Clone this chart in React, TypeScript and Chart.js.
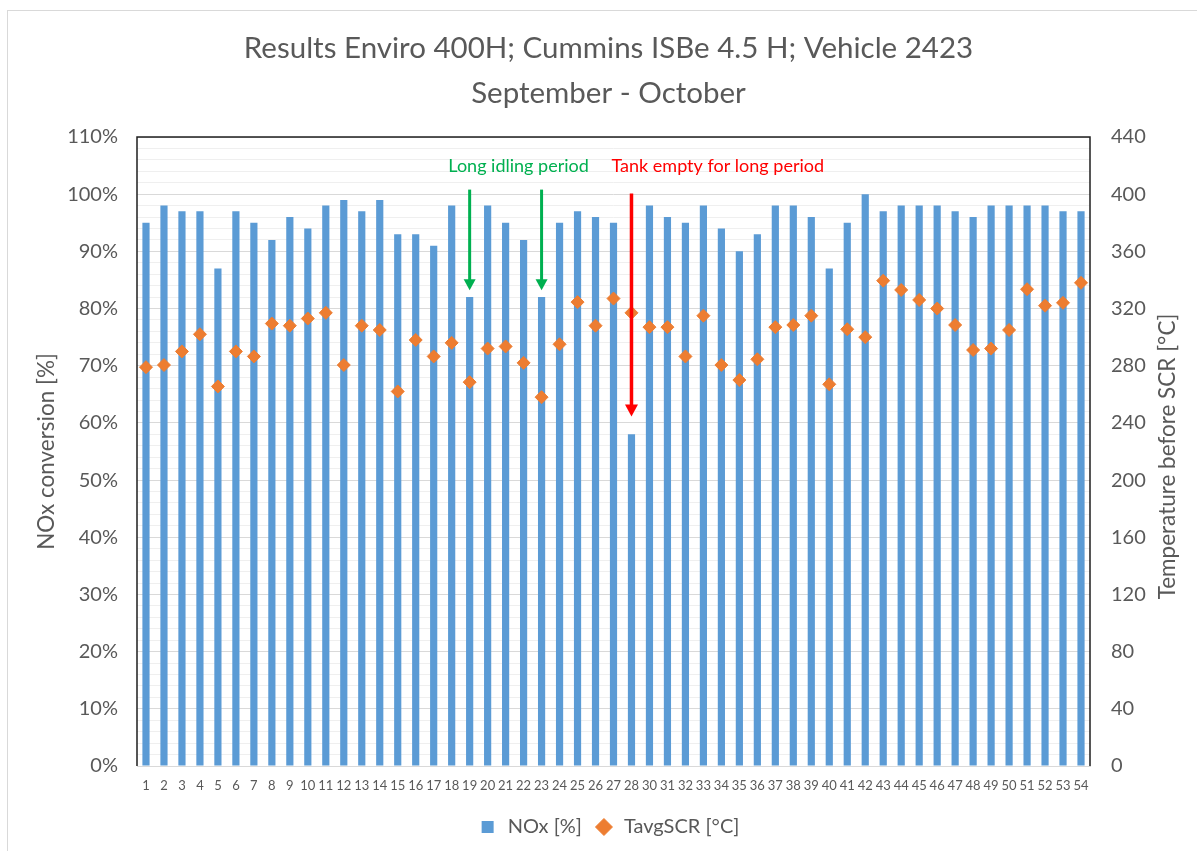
import React, { useEffect, useRef } from "react";
import { Chart, registerables } from "chart.js";

Chart.register(...registerables);

// ---- Data ----
const categories = [
  "1", "2", "3", "4", "5", "6", "7", "8", "9", "10",
  "11", "12", "13", "14", "15", "16", "17", "18", "19", "20",
  "21", "22", "23", "24", "25", "26", "27", "28",
  "30", "31", "32", "33", "34", "35", "36", "37", "38", "39",
  "40", "41", "42", "43", "44", "45", "46", "47", "48", "49",
  "50", "51", "52", "53", "54",
];

const noxPercent = [
  95, 98, 97, 97, 87, 97, 95, 92, 96, 94,
  98, 99, 97, 99, 93, 93, 91, 98, 82, 98,
  95, 92, 82, 95, 97, 96, 95, 58,
  98, 96, 95, 98, 94, 90, 93, 98, 98, 96,
  87, 95, 100, 97, 98, 98, 98, 97, 96, 98,
  98, 98, 98, 97, 97,
];

const tavgScr = [
  279, 280.5, 290, 302, 265.5, 290, 286.5, 309.5, 308, 313,
  317, 280.5, 308, 305, 262, 298, 286.5, 296, 268.5, 292,
  293.5, 282, 258, 295, 324.5, 308, 327, 317,
  307, 307, 286.5, 315, 280.5, 270, 284.5, 307, 308.5, 315,
  267, 305.5, 300, 339.5, 333, 326, 320, 308.5, 291, 292,
  305, 333.5, 322, 324, 338,
];

const titleLines = ["Results Enviro 400H; Cummins ISBe 4.5 H; Vehicle 2423", "September - October"];
const seriesNames = ["NOx [%]", "TavgSCR [°C]"];
const leftAxisTitle = "NOx conversion [%]";
const rightAxisTitle = "Temperature before SCR [°C]";

// Annotations (in data units: category index, NOx %)
const idleText = "Long idling period";
const idleTextAt = { index: 20.72, value: 104.9 };
const idleArrowLabels = ["19", "23"];
const idleArrowFrom = 100.8;
const idleArrowTo = 83.2;

const tankText = "Tank empty for long period";
const tankTextAt = { index: 31.8, value: 104.9 };
const tankArrowLabels = ["28"];
const tankArrowFrom = 100.1;
const tankArrowTo = 61.1;

const FONT = "Lato, 'Open Sans', 'Liberation Sans', sans-serif";
const TEXT_COLOR = "#595959";

function drawArrow(ctx: CanvasRenderingContext2D, x: number, y1: number, y2: number, color: string, lw: number, headW: number, headL: number) {
  ctx.save();
  ctx.strokeStyle = color;
  ctx.fillStyle = color;
  ctx.lineWidth = lw;
  ctx.beginPath();
  ctx.moveTo(x, y1);
  ctx.lineTo(x, y2 - headL + 1);
  ctx.stroke();
  ctx.beginPath();
  ctx.moveTo(x - headW / 2, y2 - headL);
  ctx.lineTo(x + headW / 2, y2 - headL);
  ctx.lineTo(x, y2);
  ctx.closePath();
  ctx.fill();
  ctx.restore();
}

const decorPlugin = {
  id: "decor",
  afterDatasetsDraw(chart: any) {
    const { ctx, chartArea, scales } = chart;
    const xs = scales.x;
    const ys = scales.y;
    // plot frame
    ctx.save();
    ctx.strokeStyle = "#1f1f1f";
    ctx.lineWidth = 1.5;
    ctx.beginPath();
    ctx.moveTo(chartArea.left, chartArea.bottom);
    ctx.lineTo(chartArea.left, chartArea.top);
    ctx.lineTo(chartArea.right, chartArea.top);
    ctx.lineTo(chartArea.right, chartArea.bottom);
    ctx.stroke();
    ctx.restore();

    // annotations
    ctx.save();
    ctx.font = `18px ${FONT}`;
    ctx.textAlign = "center";
    ctx.textBaseline = "middle";
    ctx.fillStyle = "#00B050";
    ctx.fillText(idleText, xs.getPixelForValue(idleTextAt.index), ys.getPixelForValue(idleTextAt.value));
    ctx.fillStyle = "#FF0000";
    ctx.fillText(tankText, xs.getPixelForValue(tankTextAt.index), ys.getPixelForValue(tankTextAt.value));
    ctx.restore();

    idleArrowLabels.forEach((lab) => {
      const x = xs.getPixelForValue(categories.indexOf(lab));
      drawArrow(ctx, x, ys.getPixelForValue(idleArrowFrom), ys.getPixelForValue(idleArrowTo), "#00B050", 3, 12, 11);
    });
    tankArrowLabels.forEach((lab) => {
      const x = xs.getPixelForValue(categories.indexOf(lab));
      drawArrow(ctx, x, ys.getPixelForValue(tankArrowFrom), ys.getPixelForValue(tankArrowTo), "#FF0000", 3.5, 13, 12);
    });
  },
  afterDraw(chart: any) {
    const { ctx, chartArea } = chart;
    ctx.save();
    ctx.font = `22.5px ${FONT}`;
    ctx.fillStyle = TEXT_COLOR;
    ctx.textAlign = "center";
    ctx.textBaseline = "middle";
    ctx.translate(chartArea.right + 78, (chartArea.top + chartArea.bottom) / 2 + 5);
    ctx.rotate(-Math.PI / 2);
    ctx.fillText(rightAxisTitle, 0, 0);
    ctx.restore();
  },
};

export default function App() {
  const canvasRef = useRef<HTMLCanvasElement | null>(null);

  useEffect(() => {
    if (!canvasRef.current) return;
    const chart = new Chart(canvasRef.current, {
      type: "bar",
      data: {
        labels: categories,
        datasets: [
          {
            type: "bar",
            label: seriesNames[0],
            data: noxPercent,
            backgroundColor: "#5B9BD5",
            borderWidth: 0,
            barPercentage: 0.4,
            categoryPercentage: 1,
            yAxisID: "y",
            order: 1,
            pointStyle: "rect",
          } as any,
          {
            type: "line",
            label: seriesNames[1],
            data: tavgScr,
            showLine: false,
            pointStyle: "rectRot",
            pointRadius: 6.5,
            pointHoverRadius: 6.5,
            backgroundColor: "#ED7D31",
            borderColor: "#ED7D31",
            pointBorderWidth: 1,
            yAxisID: "y1",
            order: 0,
          } as any,
        ],
      },
      options: {
        responsive: false,
        animation: false,
        layout: { padding: { left: 20, right: 0, top: 0, bottom: 4 } },
        plugins: {
          tooltip: { enabled: false },
          title: {
            display: true,
            text: titleLines,
            color: TEXT_COLOR,
            font: { family: FONT, size: 29.5, weight: "normal", lineHeight: "45px" } as any,
            padding: { top: 25.5, bottom: 21.5 },
          },
          legend: {
            position: "bottom",
            labels: {
              usePointStyle: true,
              boxHeight: 12,
              color: TEXT_COLOR,
              font: { family: FONT, size: 20 },
              padding: 12,
              sort: (a: any, b: any) => a.datasetIndex - b.datasetIndex,
            },
          },
        },
        scales: {
          x: {
            type: "category",
            offset: true,
            grid: { display: false, drawTicks: false },
            border: { display: true, color: "#d9d9d9", width: 1 },
            ticks: {
              color: TEXT_COLOR,
              font: { family: FONT, size: 13 },
              maxRotation: 0,
              minRotation: 0,
              autoSkip: false,
              padding: 12,
            },
            afterFit: (s: any) => {
              s.height = 39;
            },
          },
          y: {
            position: "left",
            min: 0,
            max: 110,
            ticks: {
              stepSize: 2,
              autoSkip: false,
              color: TEXT_COLOR,
              font: { family: FONT, size: 20 },
              padding: 19,
              callback: (v: any) => (Number(v) % 10 === 0 ? `${v}%` : ""),
            },
            grid: {
              drawTicks: false,
              color: (c: any) => (c.tick && c.tick.value % 10 === 0 ? "#d9d9d9" : "#efefef"),
            },
            border: { display: false },
            title: {
              display: true,
              text: leftAxisTitle,
              color: TEXT_COLOR,
              font: { family: FONT, size: 22.5 },
              padding: { top: 13.5, bottom: 0 },
            },
            afterFit: (s: any) => {
              s.width = 117;
            },
          },
          y1: {
            position: "right",
            min: 0,
            max: 440,
            ticks: {
              stepSize: 40,
              color: TEXT_COLOR,
              font: { family: FONT, size: 20 },
              padding: 21,
            },
            grid: { drawOnChartArea: false, drawTicks: false },
            border: { display: false },
            afterFit: (s: any) => {
              s.width = 107;
            },
          },
        },
      },
      plugins: [decorPlugin],
    });
    return () => chart.destroy();
  }, []);

  return (
    <div style={{ position: "fixed", left: 0, top: 0, width: 1197, height: 851, overflow: "hidden", background: "#ffffff" }}>
      <div style={{ position: "absolute", left: 7, top: 10, width: 1300, height: 1000, border: "1px solid #d9d9d9" }} />
      <canvas ref={canvasRef} width={1197} height={851} style={{ position: "absolute", left: 0, top: 0 }} />
    </div>
  );
}
